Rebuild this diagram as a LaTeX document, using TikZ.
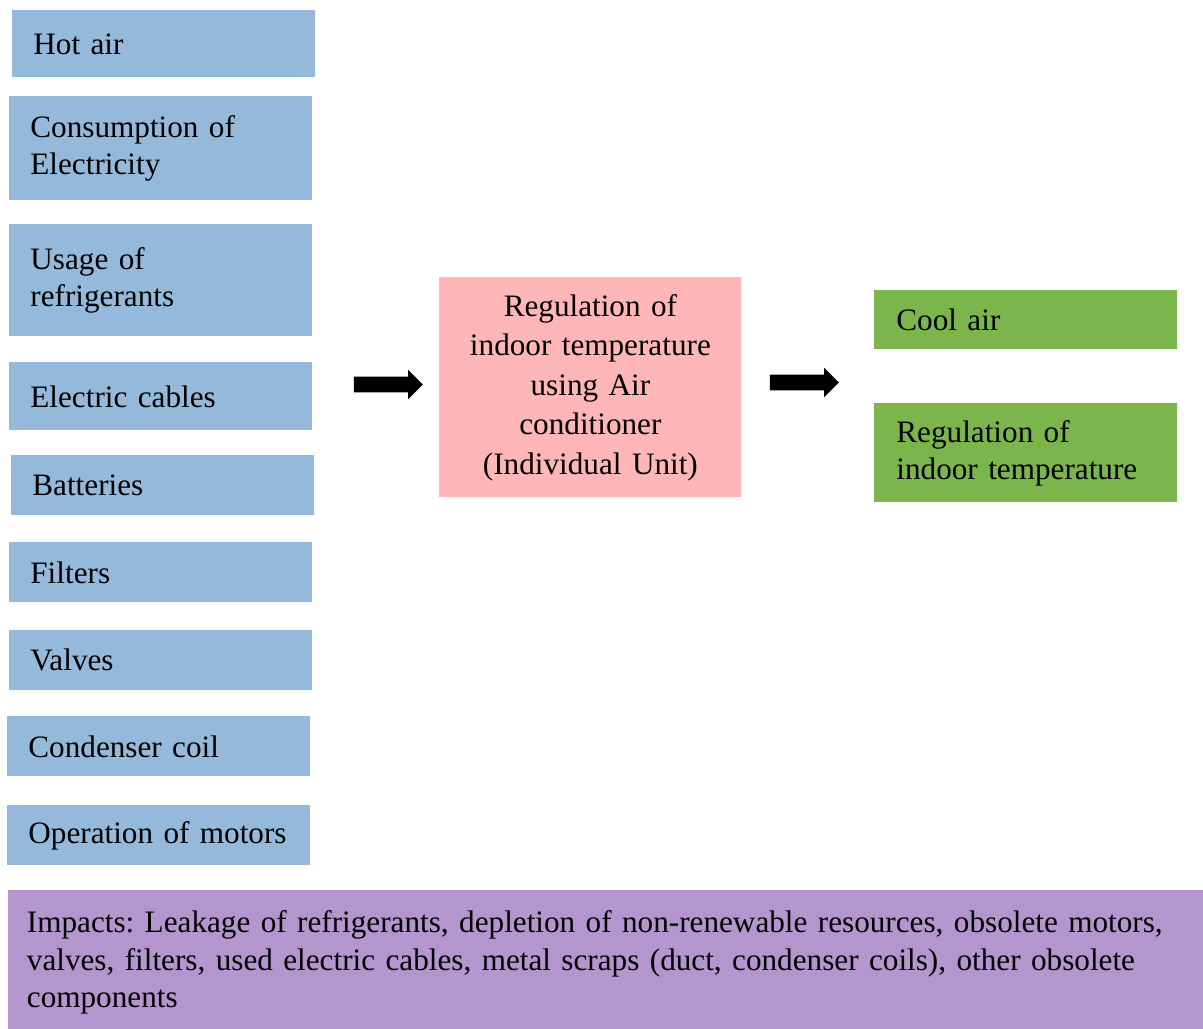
\documentclass[tikz,border=0pt]{standalone}
\usepackage{fontspec}
\setmainfont{Liberation Serif}
\usetikzlibrary{shapes.arrows, positioning}
\definecolor{inblue}{RGB}{149,185,218}
\definecolor{procpink}{RGB}{255,182,182}
\definecolor{outgreen}{RGB}{122,182,76}
\definecolor{impurple}{RGB}{180,149,206}
\frenchspacing
\tikzset{
x=0.5pt, y=-0.5pt, % one unit is one pixel of the layout
every node/.style={font=\fontsize{15.6}{18.5}\selectfont, inner ysep=0pt, anchor=north west, execute at begin node={\hyphenpenalty=10000\relax}}, % text size for all boxes
input/.style={rectangle, fill=inblue, minimum width=151.5pt, text width=130.5pt, inner xsep=10.5pt, align=left, minimum height=#1*0.5pt}, % left hand boxes
output/.style={rectangle, fill=outgreen, minimum width=151.5pt, text width=129.5pt, inner xsep=11pt, align=left, minimum height=#1*0.5pt}, % right hand boxes
process/.style={rectangle, fill=procpink, minimum width=151pt, minimum height=110pt, text width=141pt, inner xsep=5pt, align=center, font=\fontsize{15.6}{19.75}\selectfont},
blockarrow/.style={single arrow, fill=black, minimum width=14.5pt, minimum height=34.5pt, single arrow head extend=3.5pt, inner xsep=0pt, inner ysep=3.75pt, anchor=center},
}
\begin{document}
\begin{tikzpicture}
        \useasboundingbox (0,0) rectangle (1203,1028);

        % Inputs
        \node[input=67] (hot) at (12,10) {Hot air};
        \node[input=104] (elec) at (9,96) {Consumption of\\Electricity};
        \node[input=112] (refr) at (9,224) {Usage of\\refrigerants};
        \node[input=68] (cab) at (9,362) {Electric cables};
        \node[input=60] (bat) at (11,455) {Batteries};
        \node[input=60] (fil) at (9,542) {Filters};
        \node[input=60] (val) at (9,630) {Valves};
        \node[input=60] (coil) at (7,716) {Condenser coil};
        \node[input=60] (mot) at (7,805) {Operation of motors};

        % Process
        \node[process] (ac) at (439,277) {Regulation of\\indoor temperature\\using Air\\conditioner\\(Individual Unit)};

        % Outputs
        \node[output=59] (cool) at (874,290) {Cool air};
        \node[output=99] (reg) at (874,403) {Regulation of\\indoor temperature};

        % Flow
        \node[blockarrow] (arrIn) at (384.5,384.5) {};
        \node[blockarrow] (arrOut) at (800.5,382.5) {};

        % Impacts
        \node[rectangle, fill=impurple, minimum width=597.5pt, minimum height=69pt, text width=579pt, inner xsep=9.25pt, align=left, font=\fontsize{15.6}{18.75}\selectfont] (imp) at (8,893) {Impacts: Leakage of refrigerants, depletion of non-renewable resources, obsolete motors,\\valves, filters, used electric cables, metal scraps (duct, condenser coils), other obsolete\\components};
        \fill[impurple] (8,890) rectangle (1203,894);
    \end{tikzpicture}
\end{document}
